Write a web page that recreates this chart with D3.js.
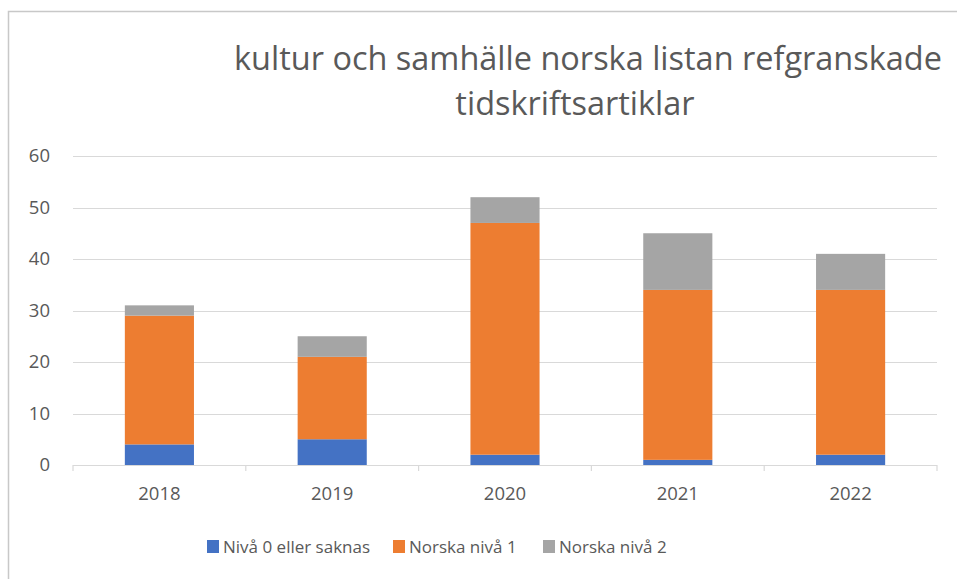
<!DOCTYPE html>
<html>
<head>
<meta charset="utf-8">
<script src="https://cdn.jsdelivr.net/npm/d3@7"></script>
<style>
  html, body { margin: 0; padding: 0; background: #fff; }
  svg { display: block; font-family: "Open Sans", "Noto Sans", sans-serif; }
</style>
</head>
<body>
<svg id="chart" width="957" height="579"></svg>
<script>
// --- Data ------------------------------------------------------------
const years = ["2018", "2019", "2020", "2021", "2022"];
const seriesNames = ["Nivå 0 eller saknas", "Norska nivå 1", "Norska nivå 2"];
const niva0 = [4, 5, 2, 1, 2];
const niva1 = [25, 16, 45, 33, 32];
const niva2 = [2, 4, 5, 11, 7];
const yTicks = [0, 10, 20, 30, 40, 50, 60];
const titleLines = ["kultur och samhälle norska listan refgranskade", "tidskriftsartiklar"];
const colors = ["#4472C4", "#ED7D31", "#A5A5A5"];

const svg = d3.select("#chart");
const W = 957, H = 579;
const plot = { left: 73, right: 937, top: 156, bottom: 465 };

// chart frame (only left and top edges visible in the crop)
svg.append("path")
  .attr("d", `M8.5,${H}V11.5H${W}`)
  .attr("fill", "none")
  .attr("stroke", "#c8c8c8")
  .attr("stroke-width", 1.5);

// --- Title -----------------------------------------------------------
const titleG = svg.append("g").attr("fill", "#595959");
const t1 = titleG.append("text")
  .attr("x", 588).attr("y", 70)
  .attr("text-anchor", "middle")
  .style("font-size", "27px")
  .text(titleLines[0]);
// fit the first line to the width seen in the reference
const fs = 27 * 708 / t1.node().getComputedTextLength();
t1.style("font-size", fs + "px");
titleG.append("text")
  .attr("x", 575).attr("y", 115)
  .attr("text-anchor", "middle")
  .style("font-size", fs + "px")
  .text(titleLines[1]);

// --- Scales ----------------------------------------------------------
const x = d3.scaleBand()
  .domain(years)
  .range([plot.left, plot.right])
  .paddingInner(0.6)
  .paddingOuter(0.3);

const y = d3.scaleLinear()
  .domain([0, 60])
  .range([plot.bottom, plot.top]);

// gridlines
svg.append("g")
  .selectAll("line")
  .data(yTicks.filter((d) => d > 0))
  .enter().append("line")
  .attr("x1", plot.left).attr("x2", plot.right)
  .attr("y1", (d) => Math.round(y(d)) + 0.5)
  .attr("y2", (d) => Math.round(y(d)) + 0.5)
  .attr("stroke", "#d9d9d9")
  .attr("stroke-width", 1.2);

// y axis labels
svg.append("g")
  .attr("transform", `translate(${plot.left},0)`)
  .call(d3.axisLeft(y).tickValues(yTicks).tickSize(0).tickPadding(23))
  .call((g) => g.select(".domain").remove())
  .call((g) => g.selectAll("text")
    .attr("fill", "#595959")
    .style("font-size", "18.5px")
    .style("font-family", "Open Sans, sans-serif"));

// --- Stacked bars ----------------------------------------------------
const rows = years.map((yr, i) => ({ year: yr, s0: niva0[i], s1: niva1[i], s2: niva2[i] }));
const layers = d3.stack().keys(["s0", "s1", "s2"])(rows);

svg.append("g")
  .selectAll("g")
  .data(layers)
  .enter().append("g")
  .attr("fill", (d, i) => colors[i])
  .selectAll("rect")
  .data((d) => d)
  .enter().append("rect")
  .attr("x", (d) => x(d.data.year))
  .attr("width", x.bandwidth())
  .attr("y", (d) => y(d[1]))
  .attr("height", (d) => y(d[0]) - y(d[1]));

// x axis: baseline with category boundary ticks
const xAxisG = svg.append("g").attr("stroke", "#d9d9d9").attr("stroke-width", 1.2);
xAxisG.append("line")
  .attr("x1", plot.left).attr("x2", plot.right)
  .attr("y1", plot.bottom + 0.5).attr("y2", plot.bottom + 0.5);
const step = x.step();
const bounds = years.map((yr) => x(yr) + x.bandwidth() / 2 - step / 2)
  .concat([x(years[years.length - 1]) + x.bandwidth() / 2 + step / 2]);
xAxisG.selectAll("line.tick")
  .data(bounds)
  .enter().append("line")
  .attr("class", "tick")
  .attr("x1", (d) => d).attr("x2", (d) => d)
  .attr("y1", plot.bottom).attr("y2", plot.bottom + 6);

svg.append("g")
  .selectAll("text")
  .data(years)
  .enter().append("text")
  .attr("x", (d) => x(d) + x.bandwidth() / 2)
  .attr("y", 500)
  .attr("text-anchor", "middle")
  .attr("fill", "#595959")
  .style("font-size", "18.5px")
  .text((d) => d);

// --- Legend ----------------------------------------------------------
const legendX = [207, 393, 543];
const legend = svg.append("g")
  .selectAll("g")
  .data(seriesNames)
  .enter().append("g")
  .attr("transform", (d, i) => `translate(${legendX[i]},540)`);
legend.append("rect")
  .attr("width", 12).attr("height", 13)
  .attr("fill", (d, i) => colors[i]);
legend.append("text")
  .attr("x", 16).attr("y", 12.5)
  .attr("fill", "#595959")
  .style("font-size", "17px")
  .text((d) => d);
</script>
</body>
</html>
